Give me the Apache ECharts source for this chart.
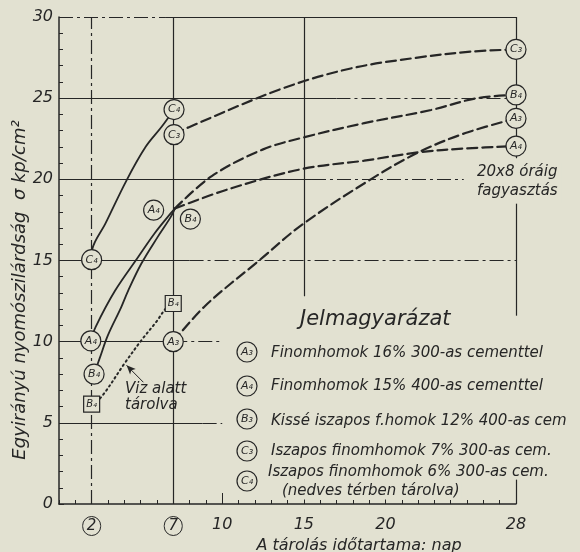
<!DOCTYPE html>
<html><head><meta charset="utf-8">
<script src="https://cdn.jsdelivr.net/npm/echarts@6/dist/echarts.min.js"></script>
<style>html,body{margin:0;padding:0;background:#e2e1d1;}#c{width:580px;height:552px;}</style>
</head><body><div id="c"></div>
<script>
// ---- data ----
const xLabelValues = [2, 7, 10, 15, 20, 28];
const xCircled = [2, 7];
const xLongTicks = [2, 10, 15, 20];
const yMin = 0, yMax = 30, yStep = 5;
const xMin = 0, xMax = 28;

// C4 solid (2 -> 7 days)
const c4Solid = [[2,15.1],[2.04,15.7],[2.84,17.27],[4.14,19.94],[5.31,22.0],[6.3,23.25],[7.05,24.3]];
// C3 dashed (7 -> 28)
const c3Dash = [[7.05,22.75],[7.93,23.2],[13.7,25.6],[17.87,26.83],[21.97,27.5],[25.3,27.87],[28,28.0]];
// A4 solid + dashed
const a4Solid = [[1.95,10.05],[2.24,10.9],[3.44,13.15],[4.84,15.2],[5.84,16.65],[6.84,17.9],[7.1,18.2]];
const a4Dash = [[7.1,18.2],[10.4,19.4],[14.95,20.65],[18.7,21.15],[22.0,21.66],[24.9,21.9],[28,22.05]];
// B4 solid + dashed
const b4Solid = [[2.15,8.0],[2.5,9.0],[3.0,10.4],[3.8,12.1],[4.24,13.15],[5.04,14.8],[6.04,16.44],[6.84,17.67],[7.1,18.2]];
const b4Dash = [[7.1,18.2],[9.36,20.2],[12.47,21.83],[15.05,22.6],[18.7,23.46],[22.8,24.27],[25.6,25.0],[28,25.2]];
// A3 dashed
const a3Dash = [[7,10],[8.95,12.2],[12.26,15.0],[14.95,17.25],[19.1,20.0],[22.0,21.65],[24.9,22.85],[28,23.75]];
// B4 stored under water (dotted)
const b4Water = [[2,6.15],[2.6,6.6],[4.03,8.68],[5.06,10.1],[5.98,11.25],[6.59,12.1],[7,12.35]];

// circled point labels
const circleMarks = [
  [2,15.05,'C₄'],[7.05,24.3,'C₄'],[7.05,22.75,'C₃'],
  [5.8,18.1,'A₄'],[8.05,17.55,'B₄'],
  [1.95,10.05,'A₄'],[2.15,8.0,'B₄'],[7,10,'A₃'],
  [28,28.0,'C₃'],[28,25.2,'B₄'],[28,23.75,'A₃'],[28,22.05,'A₄']
];
const squareMarks = [[2,6.15,'B₄'],[7,12.35,'B₄']];

// arrow "Viz alatt tárolva"
const arrowFrom = [5.17,7.5], arrowTo = [4.14,8.54];

// legend
const legendKeys = ['A₃','A₄','B₃','C₃','C₄'];
const legendTexts = [
  'Finomhomok 16% 300-as cementtel',
  'Finomhomok 15% 400-as cementtel',
  'Kissé iszapos f.homok 12% 400-as cem',
  'Iszapos finomhomok 7% 300-as cem.',
  'Iszapos finomhomok 6% 300-as cem.\n(nedves térben tárolva)'
];

// grid line segments (solid / dash-dot)
const solidSegs = [
  [[6.5,30],[28,30]], [[0,25],[17,25]], [[0,20],[15.5,20]], [[0,15],[8,15]],
  [[0,10],[7,10]], [[0,5],[8.8,5]],
  [[7,0],[7,30]], [[15,12.8],[15,30]],
  [[28,21.3],[28,30]], [[28,11.6],[28,18.5]], [[28,0],[28,1.5]]
];
const dashDotSegs = [
  [[0,30],[6.5,30]], [[17,25],[28,25]], [[15.5,20],[24.8,20]], [[8,15],[28,15]],
  [[7,10],[10,10]], [[8.8,5],[10,5]], [[2,0],[2,30]]
];

// ---- styling ----
const INK = '#262626';
const PAPER = '#e2e1d1';
const FONT = '"DejaVu Sans", sans-serif';

function segData(segs, type) {
  return segs.map(s => [{coord: s[0], lineStyle: {type: type, color: INK, width: 1.2}}, {coord: s[1]}]);
}
function curve(data, type, width, z) {
  return {type: 'line', data: data, smooth: 0.35, showSymbol: false, symbol: 'none',
    lineStyle: {color: INK, width: width, type: type, cap: 'round'}, z: z || 3, silent: true};
}

const chart = echarts.init(document.getElementById('c'), null, {renderer: 'canvas'});
const option = {
  backgroundColor: PAPER,
  animation: false,
  grid: {left: 59, right: 64, top: 17, bottom: 48},
  xAxis: [{
    type: 'value', min: xMin, max: xMax, interval: 1,
    axisLine: {show: true, lineStyle: {color: INK, width: 1.5}},
    axisTick: {show: true, inside: true, length: 4, lineStyle: {color: INK}},
    axisLabel: {show: false}, splitLine: {show: false}
  }, {
    type: 'value', min: xMin, max: xMax, position: 'bottom',
    axisLine: {show: false},
    axisTick: {show: true, inside: true, length: 11, customValues: xLongTicks, lineStyle: {color: INK}},
    axisLabel: {show: true, customValues: xLabelValues, margin: 13,
      fontFamily: FONT, fontStyle: 'italic', fontSize: 16, color: INK,
      formatter: v => xCircled.indexOf(v) >= 0 ? '{c|' + v + '}' : String(v),
      rich: {c: {width: 18, height: 18, borderRadius: 9, borderColor: INK, borderWidth: 1,
        align: 'center', verticalAlign: 'middle', lineHeight: 18, fontSize: 15, fontStyle: 'italic', fontFamily: FONT, color: INK, padding: [1,0,0,0]}}},
    splitLine: {show: false}
  }],
  yAxis: {
    type: 'value', min: yMin, max: yMax, interval: yStep,
    axisLine: {show: true, lineStyle: {color: INK, width: 1.5}},
    axisTick: {show: true, inside: true, length: 5, lineStyle: {color: INK}},
    minorTick: {show: true, splitNumber: 5, length: 4, lineStyle: {color: INK}},
    axisLabel: {margin: 6, fontFamily: FONT, fontStyle: 'italic', fontSize: 16, color: INK},
    splitLine: {show: false}
  },
  series: [
    {type: 'line', data: [], silent: true, markLine: {silent: true, symbol: 'none', label: {show: false},
      data: segData(solidSegs, 'solid').concat(segData(dashDotSegs, [14,4,3,4]))}, z: 1},
    {type: 'line', data: [], silent: true, z: 4, markLine: {silent: true, symbol: ['none','arrow'], symbolSize: [6,9],
      label: {show: false}, lineStyle: {color: INK, width: 1, type: 'solid'},
      data: [[{coord: arrowFrom}, {coord: arrowTo}]]}},
    curve(c4Solid, 'solid', 1.8),
    curve(c3Dash, [10,5], 2.2),
    curve(a4Solid, 'solid', 1.8),
    curve(a4Dash, [10,5], 2.2),
    curve(b4Solid, 'solid', 1.8),
    curve(b4Dash, [10,5], 2.2),
    curve(a3Dash, [10,5], 2.2),
    curve(b4Water, [1.5,3.5], 2),
    {type: 'scatter', z: 10, silent: true, symbol: 'circle', symbolSize: 20,
      itemStyle: {color: PAPER, borderColor: INK, borderWidth: 1.2, opacity: 1},
      label: {show: true, position: 'inside', formatter: p => p.value[2], fontFamily: FONT, fontStyle: 'italic', fontSize: 11, color: INK},
      data: circleMarks},
    {type: 'scatter', z: 10, silent: true, symbol: 'rect', symbolSize: 16,
      itemStyle: {color: PAPER, borderColor: INK, borderWidth: 1.2, opacity: 1},
      label: {show: true, position: 'inside', formatter: p => p.value[2], fontFamily: FONT, fontStyle: 'italic', fontSize: 10, color: INK},
      data: squareMarks}
  ],
  graphic: []
};

// texts
const g = [];
g.push({type: 'text', x: 20, y: 290, rotation: Math.PI/2, z: 20,
  style: {text: 'Egyirányú nyomószilárdság  σ kp/cm²', font: 'italic 18px ' + FONT, fill: INK, align: 'center', verticalAlign: 'middle'}});
g.push({type: 'text', x: 359, y: 546, z: 20,
  style: {text: 'A tárolás időtartama: nap', font: 'italic 16px ' + FONT, fill: INK, align: 'center', verticalAlign: 'middle'}});
g.push({type: 'text', x: 471, y: 163, z: 20,
  style: {text: '20x8 óráig\nfagyasztás', font: 'italic 15px ' + FONT, fill: INK, lineHeight: 19, backgroundColor: PAPER, padding: [0,4,2,6]}});
g.push({type: 'text', x: 125, y: 381, z: 20,
  style: {text: 'Viz alatt\ntárolva', font: 'italic 15px ' + FONT, fill: INK, lineHeight: 16}});
g.push({type: 'text', x: 300, y: 320, z: 20,
  style: {text: 'Jelmagyarázat', font: 'italic 21px ' + FONT, fill: INK, align: 'left', verticalAlign: 'middle'}});
const legendY = [352, 386, 419, 451, 481];
legendKeys.forEach((k, i) => {
  g.push({type: 'circle', shape: {cx: 247, cy: legendY[i], r: 10}, z: 20,
    style: {fill: PAPER, stroke: INK, lineWidth: 1.2}});
  g.push({type: 'text', x: 247, y: legendY[i], z: 21,
    style: {text: k, font: 'italic 11px ' + FONT, fill: INK, align: 'center', verticalAlign: 'middle'}});
});
const legendTextY = [353, 386, 421, 451];
for (let i = 0; i < 4; i++) {
  g.push({type: 'text', x: 271, y: legendTextY[i], z: 20,
    style: {text: legendTexts[i], font: 'italic 15px ' + FONT, fill: INK, align: 'left', verticalAlign: 'middle'}});
}
const last = legendTexts[4].split('\n');
g.push({type: 'text', x: 268, y: 472, z: 20,
  style: {text: last[0], font: 'italic 15px ' + FONT, fill: INK, align: 'left', verticalAlign: 'middle'}});
g.push({type: 'text', x: 280, y: 491, z: 20,
  style: {text: last[1], font: 'italic 15px ' + FONT, fill: INK, align: 'left', verticalAlign: 'middle', backgroundColor: PAPER, padding: [1,2,1,2]}});
option.graphic = g;
chart.setOption(option);
</script>
</body></html>
